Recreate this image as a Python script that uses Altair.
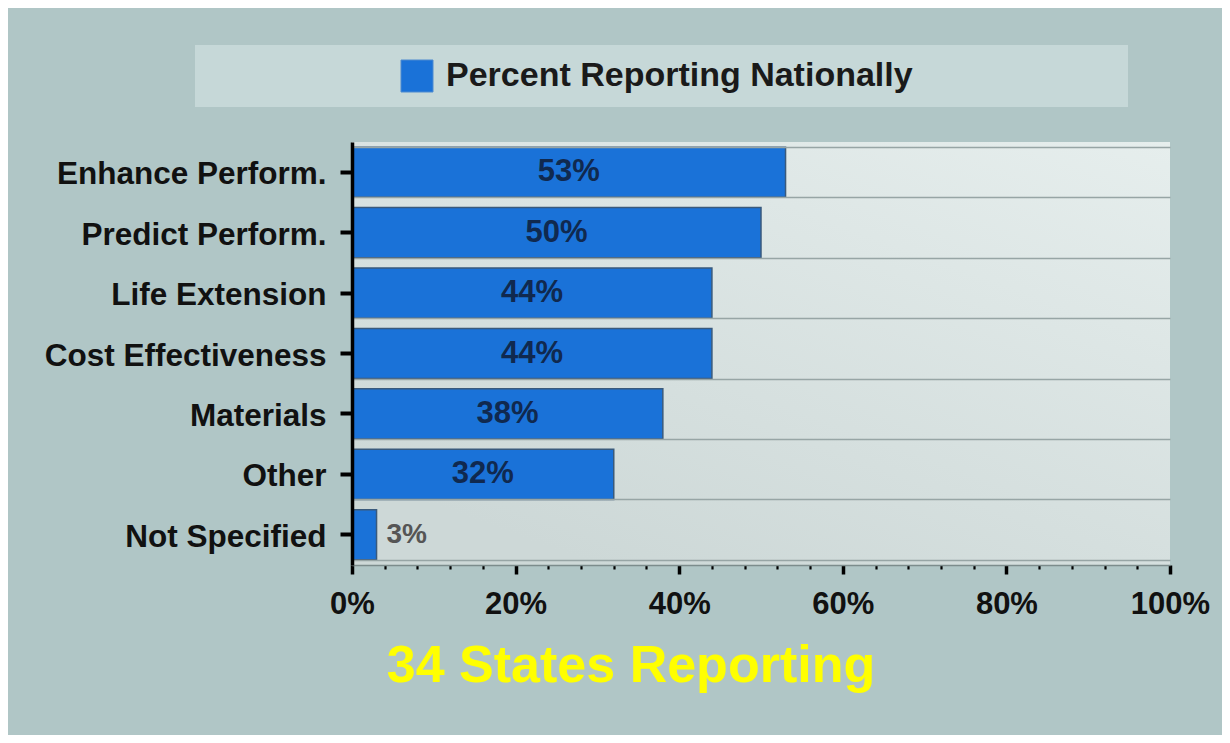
import altair as alt
import pandas as pd

categories = ["Enhance Perform.", "Predict Perform.", "Life Extension",
              "Cost Effectiveness", "Materials", "Other", "Not Specified"]
values = [53, 50, 44, 44, 38, 32, 3]
series_name = "Percent Reporting Nationally"
tick_values = list(range(0, 101, 4))
title_text = "34 States Reporting"

df = pd.DataFrame({"category": categories, "value": values, "series": series_name})
df["label"] = df["value"].astype(str) + "%"

FONT = "Liberation Sans"
W, H = 818, 423

x_scale = alt.Scale(domain=[0, 100], nice=False, zero=True)
x_axis = alt.Axis(
    values=tick_values,
    labelExpr="datum.value % 20 === 0 ? datum.value + '%' : ''",
    labelOverlap=False,
    labelFlush=False,
    grid=False,
    domainColor="#7c8c8c",
    domainWidth=1.5,
    tickColor="black",
    tickSize={"condition": {"test": "datum.value % 20 === 0", "value": 9}, "value": 4},
    tickWidth={"condition": {"test": "datum.value % 20 === 0", "value": 3.5}, "value": 2.2},
    labelFont=FONT, labelFontSize=31, labelFontWeight="bold", labelColor="#111111",
    labelPadding=15,
    title=None,
    zindex=1,
)

y_scale = alt.Scale(paddingInner=0.17, paddingOuter=0.085)

gradient = {
    "gradient": "linear",
    "x1": 1, "y1": 0, "x2": 0.3, "y2": 1,
    "stops": [{"offset": 0, "color": "#e6eeed"}, {"offset": 1, "color": "#cdd8d7"}],
}

bg = alt.Chart(pd.DataFrame({"x0": [0], "x1": [100]})).mark_rect(color=gradient).encode(
    x=alt.X("x0:Q", scale=x_scale, axis=x_axis),
    x2="x1:Q",
)

legend_box = alt.Chart(pd.DataFrame({"a": [0]})).mark_rect(color="#c6d8d8").encode(
    x=alt.value(-157), x2=alt.value(776), y=alt.value(-97), y2=alt.value(-35)
)

grid = alt.Chart(df).mark_rule(opacity=0).encode(
    y=alt.Y("category:N", sort=categories, scale=y_scale,
            axis=alt.Axis(orient="right", grid=True, tickBand="extent", ticks=False,
                          labels=False, domain=False, gridColor="#97a5a5",
                          gridWidth=1.5, title=None, zindex=1)),
)

bars = alt.Chart(df).mark_bar(stroke="#3a5a7c", strokeWidth=1.5).encode(
    x=alt.X("value:Q", scale=x_scale, axis=x_axis),
    y=alt.Y("category:N", sort=categories, scale=y_scale,
            axis=alt.Axis(orient="left", grid=False, domainColor="black", domainWidth=3.5,
                          tickColor="black", tickWidth=4, tickSize=12,
                          labelFont=FONT, labelFontSize=31.5, labelFontWeight="bold",
                          labelColor="#111111", labelPadding=14, labelLimit=0,
                          labelOffset=3,
                          title=None, zindex=1)),
    color=alt.Color("series:N", scale=alt.Scale(range=["#1a72d8"]),
                    legend=alt.Legend(title=None, orient="none", legendX=48, legendY=-83,
                                      symbolType="square", symbolSize=1024,
                                      symbolStrokeWidth=1, symbolStrokeColor="#4d8ad0",
                                      labelFont=FONT, labelFontSize=34,
                                      labelFontWeight="bold", labelColor="#1a1a1a",
                                      labelOffset=12, padding=0, labelLimit=0)),
)

inside = alt.Chart(df).transform_filter("datum.value >= 10").transform_calculate(
    mid="datum.value / 2"
).mark_text(font=FONT, fontSize=31, fontWeight="bold", color="#10294f",
            align="center", baseline="middle").encode(
    x=alt.X("mid:Q", scale=x_scale, axis=x_axis),
    y=alt.Y("category:N", sort=categories, scale=y_scale, axis=None),
    text="label:N",
)

outside = alt.Chart(df).transform_filter("datum.value < 10").mark_text(
    font=FONT, fontSize=28, fontWeight="bold", color="#555555",
    align="left", baseline="middle", dx=10).encode(
    x=alt.X("value:Q", scale=x_scale, axis=x_axis),
    y=alt.Y("category:N", sort=categories, scale=y_scale, axis=None),
    text="label:N",
)

chart = alt.layer(bg, legend_box, grid, bars, inside, outside).resolve_axis(
    y="independent"
).properties(
    width=W, height=H,
    autosize=alt.AutoSizeParams(type="none"),
    padding={"left": 344, "top": 134, "right": 52, "bottom": 170},
    title=alt.TitleParams(title_text, orient="bottom", anchor="middle", dx=-130,
                          offset=22, font=FONT, fontSize=52, fontWeight="bold",
                          color="#ffff00"),
).configure(background="#b0c6c6").configure_view(stroke=None)

chart.save("out.html", embed_options={"renderer": "svg", "actions": False})
